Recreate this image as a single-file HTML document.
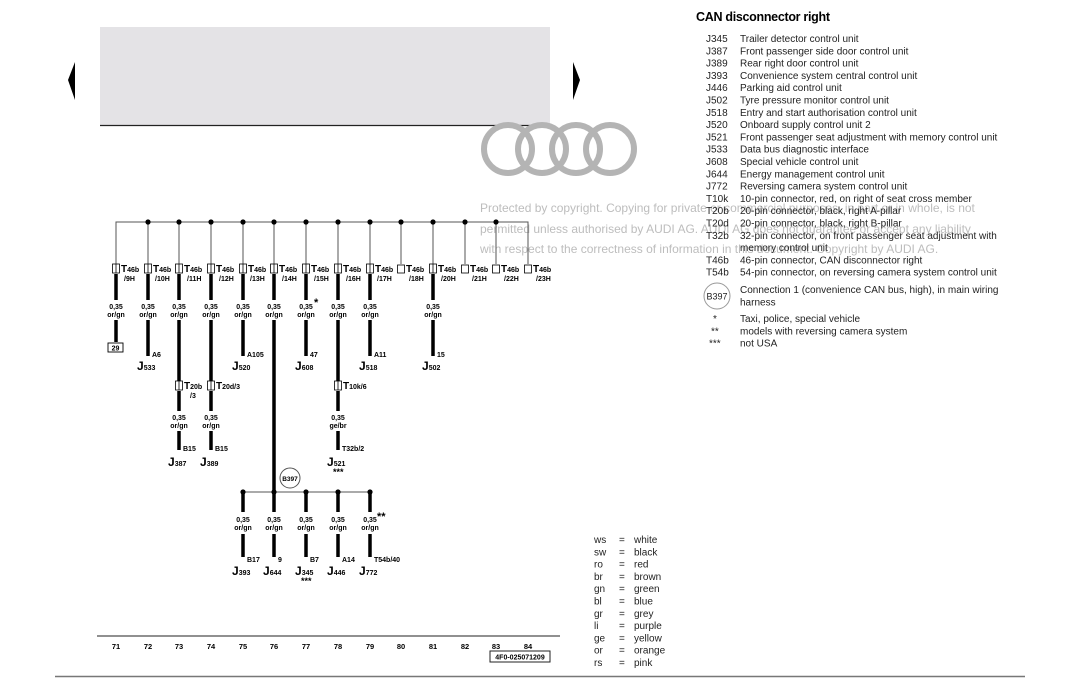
<!DOCTYPE html>
<html><head><meta charset="utf-8"><style>
html,body{margin:0;padding:0;background:#fff;}
svg{display:block;font-family:"Liberation Sans",sans-serif;}
.d{font-weight:bold;font-size:7px;fill:#000;}
.t{font-size:10px;fill:#222;}
.w{font-size:12px;fill:#bdbdbd;}
.J{font-weight:bold;font-size:12px;}
.Js{font-weight:bold;font-size:7px;}
</style></head><body>
<svg width="1080" height="681" viewBox="0 0 1080 681" xmlns="http://www.w3.org/2000/svg">
<!-- header box -->
<rect x="100" y="27" width="450" height="98" fill="#e4e3e6"/>
<line x1="100" y1="125.5" x2="550" y2="125.5" stroke="#222" stroke-width="1.2"/>
<polygon points="75,62 68,80 75,100" fill="#000"/>
<polygon points="573,62 580,80 573,100" fill="#000"/>
<!-- rings -->
<g fill="none" stroke="#b4b4b4" stroke-width="6">
<circle cx="508" cy="149" r="24"/><circle cx="542" cy="149" r="24"/><circle cx="576" cy="149" r="24"/><circle cx="610" cy="149" r="24"/>
</g>
<!-- watermark -->
<text class="w" x="480" y="212">Protected by copyright. Copying for private or commercial purposes, in part or in whole, is not</text>
<text class="w" x="480" y="233">permitted unless authorised by AUDI AG. AUDI AG does not guarantee or accept any liability</text>
<text class="w" x="480" y="253">with respect to the correctness of information in this document. Copyright by AUDI AG.</text>

<!-- right legend -->
<text x="696" y="21" style="font-size:12.5px;font-weight:bold;letter-spacing:-0.3px">CAN disconnector right</text>
<g class="t">
<text x="706" y="42">J345</text><text x="740" y="42">Trailer detector control unit</text>
<text x="706" y="54.3">J387</text><text x="740" y="54.3">Front passenger side door control unit</text>
<text x="706" y="66.6">J389</text><text x="740" y="66.6">Rear right door control unit</text>
<text x="706" y="78.9">J393</text><text x="740" y="78.9">Convenience system central control unit</text>
<text x="706" y="91.2">J446</text><text x="740" y="91.2">Parking aid control unit</text>
<text x="706" y="103.5">J502</text><text x="740" y="103.5">Tyre pressure monitor control unit</text>
<text x="706" y="115.8">J518</text><text x="740" y="115.8">Entry and start authorisation control unit</text>
<text x="706" y="128.1">J520</text><text x="740" y="128.1">Onboard supply control unit 2</text>
<text x="706" y="140.4">J521</text><text x="740" y="140.4">Front passenger seat adjustment with memory control unit</text>
<text x="706" y="152.7">J533</text><text x="740" y="152.7">Data bus diagnostic interface</text>
<text x="706" y="165">J608</text><text x="740" y="165">Special vehicle control unit</text>
<text x="706" y="177.3">J644</text><text x="740" y="177.3">Energy management control unit</text>
<text x="706" y="189.6">J772</text><text x="740" y="189.6">Reversing camera system control unit</text>
<text x="706" y="201.9">T10k</text><text x="740" y="201.9">10-pin connector, red, on right of seat cross member</text>
<text x="706" y="214.2">T20b</text><text x="740" y="214.2">20-pin connector, black, right A-pillar</text>
<text x="706" y="226.5">T20d</text><text x="740" y="226.5">20-pin connector, black, right B-pillar</text>
<text x="706" y="238.8">T32b</text><text x="740" y="238.8">32-pin connector, on front passenger seat adjustment with</text>
<text x="740" y="251.1">memory control unit</text>
<text x="706" y="263.4">T46b</text><text x="740" y="263.4">46-pin connector, CAN disconnector right</text>
<text x="706" y="275.7">T54b</text><text x="740" y="275.7">54-pin connector, on reversing camera system control unit</text>
<text x="740" y="293">Connection 1 (convenience CAN bus, high), in main wiring</text>
<text x="740" y="305.3">harness</text>
<text x="713" y="322">*</text><text x="740" y="322">Taxi, police, special vehicle</text>
<text x="711" y="334.3">**</text><text x="740" y="334.3">models with reversing camera system</text>
<text x="709" y="346.6">***</text><text x="740" y="346.6">not USA</text>
</g>
<circle cx="717" cy="296" r="13" fill="none" stroke="#999" stroke-width="1"/>
<text x="717" y="299.5" text-anchor="middle" style="font-size:9px;fill:#222">B397</text>

<!-- colour legend -->
<g class="t">
<text x="594" y="543">ws</text><text x="619" y="543">=</text><text x="634" y="543">white</text>
<text x="594" y="555.3">sw</text><text x="619" y="555.3">=</text><text x="634" y="555.3">black</text>
<text x="594" y="567.6">ro</text><text x="619" y="567.6">=</text><text x="634" y="567.6">red</text>
<text x="594" y="579.9">br</text><text x="619" y="579.9">=</text><text x="634" y="579.9">brown</text>
<text x="594" y="592.2">gn</text><text x="619" y="592.2">=</text><text x="634" y="592.2">green</text>
<text x="594" y="604.5">bl</text><text x="619" y="604.5">=</text><text x="634" y="604.5">blue</text>
<text x="594" y="616.8">gr</text><text x="619" y="616.8">=</text><text x="634" y="616.8">grey</text>
<text x="594" y="629.1">li</text><text x="619" y="629.1">=</text><text x="634" y="629.1">purple</text>
<text x="594" y="641.4">ge</text><text x="619" y="641.4">=</text><text x="634" y="641.4">yellow</text>
<text x="594" y="653.7">or</text><text x="619" y="653.7">=</text><text x="634" y="653.7">orange</text>
<text x="594" y="666">rs</text><text x="619" y="666">=</text><text x="634" y="666">pink</text>
</g>

<!-- bottom -->
<line x1="97" y1="636" x2="560" y2="636" stroke="#222" stroke-width="1"/>
<g class="d" text-anchor="middle" style="font-size:7.5px">
<text x="116" y="649">71</text><text x="148" y="649">72</text><text x="179" y="649">73</text><text x="211" y="649">74</text><text x="243" y="649">75</text><text x="274" y="649">76</text><text x="306" y="649">77</text><text x="338" y="649">78</text><text x="370" y="649">79</text><text x="401" y="649">80</text><text x="433" y="649">81</text><text x="465" y="649">82</text><text x="496" y="649">83</text><text x="528" y="649">84</text>
</g>
<rect x="490" y="651" width="60" height="11" fill="none" stroke="#222" stroke-width="1"/>
<text x="520" y="659.5" text-anchor="middle" class="d">4F0-025071209</text>
<line x1="55" y1="676.5" x2="1025" y2="676.5" stroke="#777" stroke-width="1.5"/>

<!-- top bus -->
<g stroke="#555" stroke-width="1" fill="none">
<polyline points="116,264 116,222 528,222 528,264"/>
<line x1="148" y1="222" x2="148" y2="264"/><line x1="179" y1="222" x2="179" y2="264"/><line x1="211" y1="222" x2="211" y2="264"/><line x1="243" y1="222" x2="243" y2="264"/><line x1="274" y1="222" x2="274" y2="264"/><line x1="306" y1="222" x2="306" y2="264"/><line x1="338" y1="222" x2="338" y2="264"/><line x1="370" y1="222" x2="370" y2="264"/><line x1="401" y1="222" x2="401" y2="264"/><line x1="433" y1="222" x2="433" y2="264"/><line x1="465" y1="222" x2="465" y2="264"/><line x1="496" y1="222" x2="496" y2="264"/>
</g>
<g fill="#000">
<circle cx="148" cy="222" r="2.6"/><circle cx="179" cy="222" r="2.6"/><circle cx="211" cy="222" r="2.6"/><circle cx="243" cy="222" r="2.6"/><circle cx="274" cy="222" r="2.6"/><circle cx="306" cy="222" r="2.6"/><circle cx="338" cy="222" r="2.6"/><circle cx="370" cy="222" r="2.6"/><circle cx="401" cy="222" r="2.6"/><circle cx="433" cy="222" r="2.6"/><circle cx="465" cy="222" r="2.6"/><circle cx="496" cy="222" r="2.6"/>
</g>
<!-- connectors -->
<g fill="#fff" stroke="#000" stroke-width="0.8">
<rect x="112.5" y="264" width="7" height="9"/><rect x="144.5" y="264" width="7" height="9"/><rect x="175.5" y="264" width="7" height="9"/><rect x="207.5" y="264" width="7" height="9"/><rect x="239.5" y="264" width="7" height="9"/><rect x="270.5" y="264" width="7" height="9"/><rect x="302.5" y="264" width="7" height="9"/><rect x="334.5" y="264" width="7" height="9"/><rect x="366.5" y="264" width="7" height="9"/><rect x="397.5" y="265" width="7" height="8"/><rect x="429.5" y="264" width="7" height="9"/><rect x="461.5" y="265" width="7" height="8"/><rect x="492.5" y="265" width="7" height="8"/><rect x="524.5" y="265" width="7" height="8"/>
<rect x="175.5" y="381" width="7" height="9"/><rect x="207.5" y="381" width="7" height="9"/><rect x="334.5" y="381" width="7" height="9"/>
</g>
<g stroke="#000" stroke-width="0.8">
<line x1="116" y1="264" x2="116" y2="273"/><line x1="148" y1="264" x2="148" y2="273"/><line x1="179" y1="264" x2="179" y2="273"/><line x1="211" y1="264" x2="211" y2="273"/><line x1="243" y1="264" x2="243" y2="273"/><line x1="274" y1="264" x2="274" y2="273"/><line x1="306" y1="264" x2="306" y2="273"/><line x1="338" y1="264" x2="338" y2="273"/><line x1="370" y1="264" x2="370" y2="273"/><line x1="433" y1="264" x2="433" y2="273"/>
<line x1="179" y1="381" x2="179" y2="390"/><line x1="211" y1="381" x2="211" y2="390"/><line x1="338" y1="381" x2="338" y2="390"/>
</g>
<!-- connector labels -->
<g class="d">
<text x="121" y="272"><tspan style="font-size:10px">T</tspan>46b</text><text x="124" y="281">/9H</text>
<text x="153" y="272"><tspan style="font-size:10px">T</tspan>46b</text><text x="155" y="281">/10H</text>
<text x="184" y="272"><tspan style="font-size:10px">T</tspan>46b</text><text x="187" y="281">/11H</text>
<text x="216" y="272"><tspan style="font-size:10px">T</tspan>46b</text><text x="219" y="281">/12H</text>
<text x="248" y="272"><tspan style="font-size:10px">T</tspan>46b</text><text x="250" y="281">/13H</text>
<text x="279" y="272"><tspan style="font-size:10px">T</tspan>46b</text><text x="282" y="281">/14H</text>
<text x="311" y="272"><tspan style="font-size:10px">T</tspan>46b</text><text x="314" y="281">/15H</text>
<text x="343" y="272"><tspan style="font-size:10px">T</tspan>46b</text><text x="346" y="281">/16H</text>
<text x="375" y="272"><tspan style="font-size:10px">T</tspan>46b</text><text x="377" y="281">/17H</text>
<text x="406" y="272"><tspan style="font-size:10px">T</tspan>46b</text><text x="409" y="281">/18H</text>
<text x="438" y="272"><tspan style="font-size:10px">T</tspan>46b</text><text x="441" y="281">/20H</text>
<text x="470" y="272"><tspan style="font-size:10px">T</tspan>46b</text><text x="472" y="281">/21H</text>
<text x="501" y="272"><tspan style="font-size:10px">T</tspan>46b</text><text x="504" y="281">/22H</text>
<text x="533" y="272"><tspan style="font-size:10px">T</tspan>46b</text><text x="536" y="281">/23H</text>
<text x="184" y="389"><tspan style="font-size:10px">T</tspan>20b</text><text x="190" y="398">/3</text>
<text x="216" y="389"><tspan style="font-size:10px">T</tspan>20d/3</text>
<text x="343" y="389"><tspan style="font-size:10px">T</tspan>10k/6</text>
</g>
<!-- thick wires -->
<g stroke="#000" stroke-width="3.5">
<line x1="116" y1="274" x2="116" y2="300"/><line x1="116" y1="320" x2="116" y2="342"/>
<line x1="148" y1="274" x2="148" y2="300"/><line x1="148" y1="320" x2="148" y2="356"/>
<line x1="179" y1="274" x2="179" y2="300"/><line x1="179" y1="320" x2="179" y2="381"/>
<line x1="211" y1="274" x2="211" y2="300"/><line x1="211" y1="320" x2="211" y2="381"/>
<line x1="243" y1="274" x2="243" y2="300"/><line x1="243" y1="320" x2="243" y2="356"/>
<line x1="274" y1="274" x2="274" y2="300"/><line x1="274" y1="320" x2="274" y2="512"/>
<line x1="306" y1="274" x2="306" y2="300"/><line x1="306" y1="320" x2="306" y2="356"/>
<line x1="338" y1="274" x2="338" y2="300"/><line x1="338" y1="320" x2="338" y2="381"/>
<line x1="370" y1="274" x2="370" y2="300"/><line x1="370" y1="320" x2="370" y2="356"/>
<line x1="433" y1="274" x2="433" y2="300"/><line x1="433" y1="320" x2="433" y2="356"/>
<line x1="179" y1="391" x2="179" y2="411"/><line x1="179" y1="431" x2="179" y2="450"/>
<line x1="211" y1="391" x2="211" y2="411"/><line x1="211" y1="431" x2="211" y2="450"/>
<line x1="338" y1="391" x2="338" y2="411"/><line x1="338" y1="431" x2="338" y2="450"/>
<line x1="243" y1="492" x2="243" y2="512"/><line x1="306" y1="492" x2="306" y2="512"/><line x1="338" y1="492" x2="338" y2="512"/><line x1="370" y1="492" x2="370" y2="512"/>
<line x1="243" y1="534" x2="243" y2="557"/><line x1="274" y1="534" x2="274" y2="557"/><line x1="306" y1="534" x2="306" y2="557"/><line x1="338" y1="534" x2="338" y2="557"/><line x1="370" y1="534" x2="370" y2="557"/>
</g>
<line x1="243" y1="492" x2="370" y2="492" stroke="#555" stroke-width="1"/>
<g fill="#000"><circle cx="243" cy="492" r="2.6"/><circle cx="274" cy="492" r="2.6"/><circle cx="306" cy="492" r="2.6"/><circle cx="338" cy="492" r="2.6"/><circle cx="370" cy="492" r="2.6"/></g>
<circle cx="290" cy="478" r="10" fill="#fff" stroke="#555" stroke-width="1"/>
<text x="290" y="481" text-anchor="middle" class="d" style="font-size:6.5px">B397</text>
<!-- wire labels -->
<g class="d" text-anchor="middle">
<text x="116" y="309">0,35</text><text x="116" y="317">or/gn</text>
<text x="148" y="309">0,35</text><text x="148" y="317">or/gn</text>
<text x="179" y="309">0,35</text><text x="179" y="317">or/gn</text>
<text x="211" y="309">0,35</text><text x="211" y="317">or/gn</text>
<text x="243" y="309">0,35</text><text x="243" y="317">or/gn</text>
<text x="274" y="309">0,35</text><text x="274" y="317">or/gn</text>
<text x="306" y="309">0,35</text><text x="306" y="317">or/gn</text>
<text x="338" y="309">0,35</text><text x="338" y="317">or/gn</text>
<text x="370" y="309">0,35</text><text x="370" y="317">or/gn</text>
<text x="433" y="309">0,35</text><text x="433" y="317">or/gn</text>
<text x="179" y="420">0,35</text><text x="179" y="428">or/gn</text>
<text x="211" y="420">0,35</text><text x="211" y="428">or/gn</text>
<text x="338" y="420">0,35</text><text x="338" y="428">ge/br</text>
<text x="243" y="522">0,35</text><text x="243" y="530">or/gn</text>
<text x="274" y="522">0,35</text><text x="274" y="530">or/gn</text>
<text x="306" y="522">0,35</text><text x="306" y="530">or/gn</text>
<text x="338" y="522">0,35</text><text x="338" y="530">or/gn</text>
<text x="370" y="522">0,35</text><text x="370" y="530">or/gn</text>
</g>
<text x="314" y="306" style="font-size:11px;font-weight:bold">*</text>
<text x="377" y="520" style="font-size:11px;font-weight:bold">**</text>
<!-- end pins -->
<rect x="108" y="343" width="15" height="9" fill="#fff" stroke="#000" stroke-width="0.9"/>
<text x="115.5" y="350.5" text-anchor="middle" class="d">29</text>
<g class="d">
<text x="152" y="357">A6</text><text x="247" y="357">A105</text><text x="310" y="357">47</text><text x="374" y="357">A11</text><text x="437" y="357">15</text>
<text x="183" y="451">B15</text><text x="215" y="451">B15</text><text x="342" y="451">T32b/2</text>
<text x="247" y="562">B17</text><text x="278" y="562">9</text><text x="310" y="562">B7</text><text x="342" y="562">A14</text><text x="374" y="562">T54b/40</text>
</g>
<!-- J labels -->
<g>
<text x="137" y="370"><tspan class="J">J</tspan><tspan class="Js">533</tspan></text>
<text x="232" y="370"><tspan class="J">J</tspan><tspan class="Js">520</tspan></text>
<text x="295" y="370"><tspan class="J">J</tspan><tspan class="Js">608</tspan></text>
<text x="359" y="370"><tspan class="J">J</tspan><tspan class="Js">518</tspan></text>
<text x="422" y="370"><tspan class="J">J</tspan><tspan class="Js">502</tspan></text>
<text x="168" y="466"><tspan class="J">J</tspan><tspan class="Js">387</tspan></text>
<text x="200" y="466"><tspan class="J">J</tspan><tspan class="Js">389</tspan></text>
<text x="327" y="466"><tspan class="J">J</tspan><tspan class="Js">521</tspan></text>
<text x="232" y="575"><tspan class="J">J</tspan><tspan class="Js">393</tspan></text>
<text x="263" y="575"><tspan class="J">J</tspan><tspan class="Js">644</tspan></text>
<text x="295" y="575"><tspan class="J">J</tspan><tspan class="Js">345</tspan></text>
<text x="327" y="575"><tspan class="J">J</tspan><tspan class="Js">446</tspan></text>
<text x="359" y="575"><tspan class="J">J</tspan><tspan class="Js">772</tspan></text>
</g>
<text x="333" y="475" class="d" style="font-size:9px">***</text>
<text x="301" y="584" class="d" style="font-size:9px">***</text>
</svg>
</body></html>
